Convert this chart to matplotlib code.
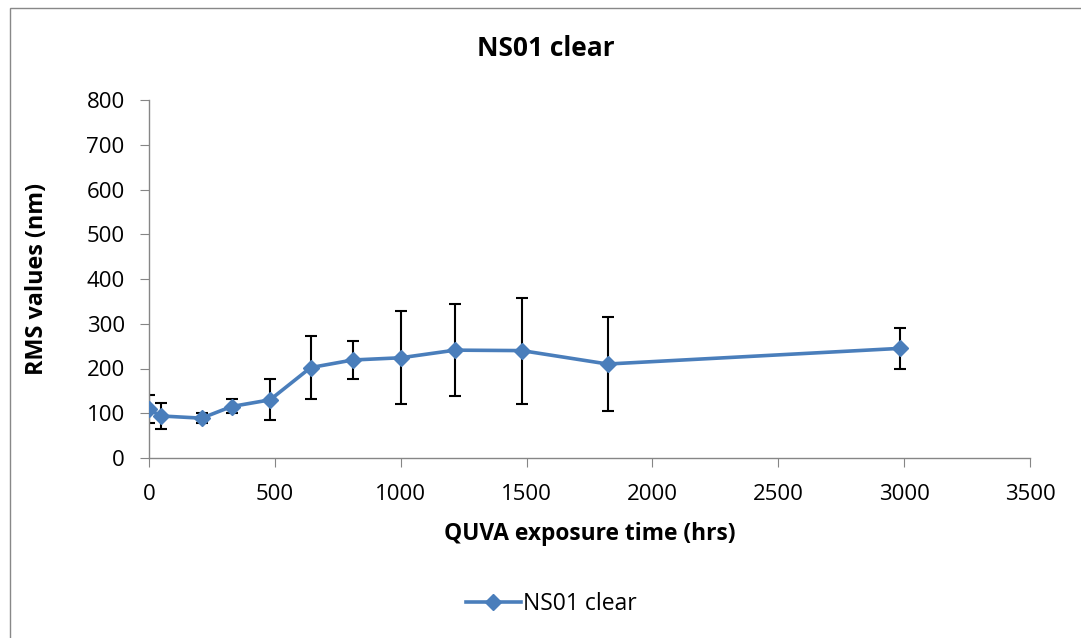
import matplotlib.pyplot as plt
from matplotlib.patches import Rectangle

# data
hours = [0, 46, 209, 328, 481, 642, 809, 1001, 1216, 1481, 1822, 2984]
rms = [109, 94, 89, 115, 130, 202, 219, 224, 241, 240, 210, 245]
err_top = [141, 122, 101, 132, 176, 273, 261, 329, 345, 358, 314, 291]
err_bot = [78, 65, 78, 100, 86, 132, 176, 120, 139, 120, 106, 199]

blue = "#4A7EBB"
plt.rcParams["font.family"] = ["Open Sans", "DejaVu Sans"]

fig = plt.figure(figsize=(10.81, 6.38), dpi=100)
# outer chart border
fig.patches.append(Rectangle((10 / 1081, -0.01), 1.05, 1 - 8 / 638 + 0.01,
                             transform=fig.transFigure, fill=False,
                             edgecolor="#888888", linewidth=1))

ax = fig.add_axes([149 / 1081, 1 - 458 / 638, 881 / 1081, 358 / 638])

lower = [r - b for r, b in zip(rms, err_bot)]
upper = [t - r for r, t in zip(rms, err_top)]
ax.errorbar(hours, rms, yerr=[lower, upper], fmt="none", ecolor="black",
            elinewidth=1.5, capsize=4.5, capthick=1.5, zorder=2)
ax.plot(hours, rms, color=blue, linewidth=2.6, marker="D", markersize=8.5,
        label="NS01 clear", zorder=3)

ax.set_xlim(0, 3500)
ax.set_ylim(0, 800)
ax.set_xticks(range(0, 3501, 500))
ax.set_yticks(range(0, 801, 100))
for side in ["top", "right"]:
    ax.spines[side].set_visible(False)
for side in ["left", "bottom"]:
    ax.spines[side].set_color("#868686")
    ax.spines[side].set_linewidth(1)
ax.tick_params(direction="out", length=6.5, color="#868686", labelsize=16)
ax.tick_params(axis="x", pad=12)
ax.tick_params(axis="y", pad=11)

ax.set_xlabel("QUVA exposure time (hrs)", fontsize=16.4, fontweight="bold",
              va="center")
ax.xaxis.set_label_coords(0.5, (458 - 534) / 358)
ax.set_ylabel("RMS values (nm)", fontsize=16.8, fontweight="bold",
              va="center")
ax.yaxis.set_label_coords((37 - 149) / 881, 0.5)
fig.text(0.505, 1 - 48 / 638, "NS01 clear", ha="center", va="center",
         fontsize=19, fontweight="bold")

ax.legend(loc="center", bbox_to_anchor=(0.51, 1 - 604 / 638),
          bbox_transform=fig.transFigure, frameon=False, fontsize=16.5,
          handlelength=2.4, handletextpad=0.1)

fig.savefig("out.png", dpi=100)
